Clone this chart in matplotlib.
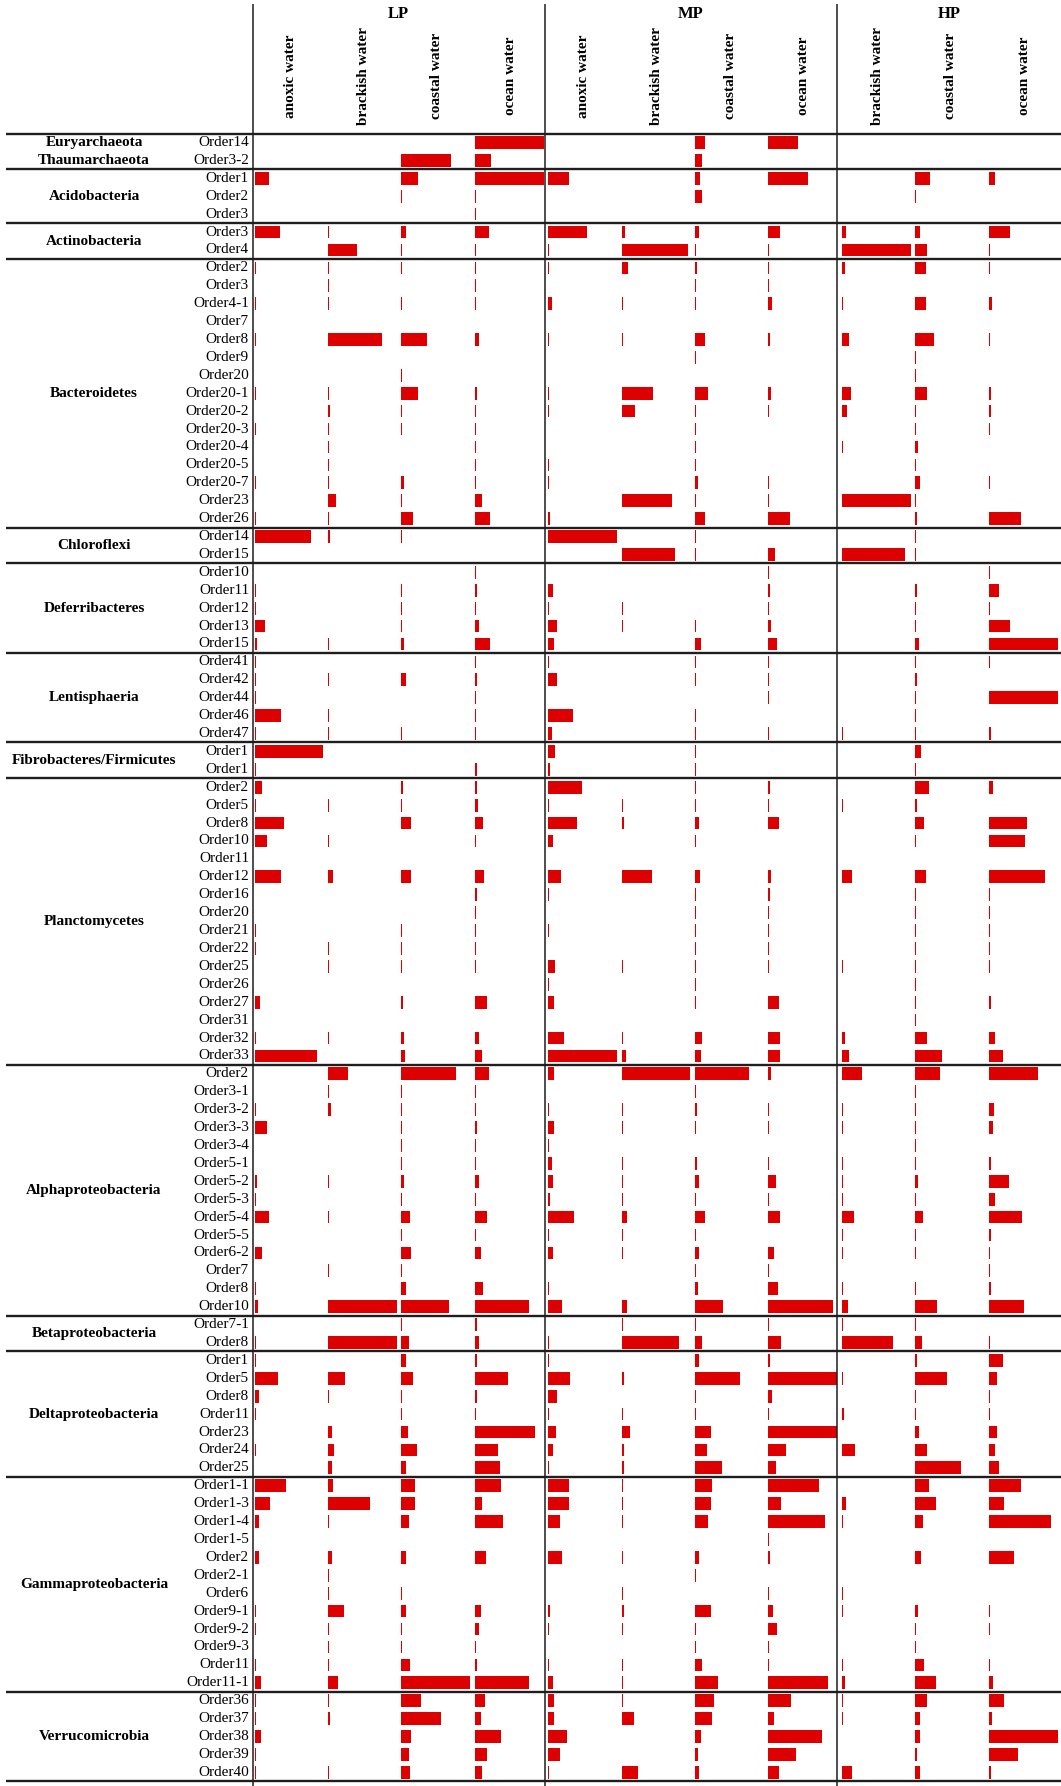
import numpy as np
import matplotlib
matplotlib.use("Agg")
import matplotlib.pyplot as plt

plt.rcParams["font.family"] = ["Liberation Serif", "DejaVu Serif"]

# column groups and habitats
groups = ["LP", "MP", "HP"]
habitats = [
    ["anoxic water", "brackish water", "coastal water", "ocean water"],
    ["anoxic water", "brackish water", "coastal water", "ocean water"],
    ["brackish water", "coastal water", "ocean water"],
]

# phyla, orders and bar lengths (relative, 132 = full cell)
# columns: LP anoxic, LP brackish, LP coastal, LP ocean,
#          MP anoxic, MP brackish, MP coastal, MP ocean,
#          HP brackish, HP coastal, HP ocean
phyla = [
    "Euryarchaeota", "Thaumarchaeota", "Acidobacteria", "Actinobacteria",
    "Bacteroidetes", "Chloroflexi", "Deferribacteres", "Lentisphaeria",
    "Fibrobacteres/Firmicutes", "Planctomycetes", "Alphaproteobacteria",
    "Betaproteobacteria", "Deltaproteobacteria", "Gammaproteobacteria",
    "Verrucomicrobia",
]

# phyla that share a block (no separator between them)
merged_with_next = ["Euryarchaeota"]

euryarchaeota_orders = ["Order14"]
euryarchaeota_vals = [
    [0, 0, 0, 131, 0, 0, 20, 57, 0, 0, 0],
]

thaumarchaeota_orders = ["Order3-2"]
thaumarchaeota_vals = [
    [0, 0, 95, 31, 0, 0, 14, 0, 0, 0, 0],
]

acidobacteria_orders = ["Order1", "Order2", "Order3"]
acidobacteria_vals = [
    [27, 0, 31, 131, 40, 0, 10, 75, 0, 29, 13],
    [0, 0, 2, 2, 0, 0, 14, 0, 0, 2, 0],
    [0, 0, 0, 1, 0, 0, 0, 0, 0, 0, 0],
]

actinobacteria_orders = ["Order3", "Order4"]
actinobacteria_vals = [
    [48, 1, 8, 28, 73, 6, 7, 23, 8, 10, 41],
    [0, 55, 2, 1, 1, 126, 3, 1, 132, 23, 1],
]

bacteroidetes_orders = ["Order2", "Order3", "Order4-1", "Order7", "Order8",
                        "Order9", "Order20", "Order20-1", "Order20-2",
                        "Order20-3", "Order20-4", "Order20-5", "Order20-7",
                        "Order23", "Order26"]
bacteroidetes_vals = [
    [1, 1, 2, 1, 1, 12, 4, 1, 7, 20, 1],
    [0, 1, 0, 1, 0, 0, 1, 1, 0, 0, 0],
    [3, 1.5, 2, 3, 7, 1, 3, 7, 1.5, 21, 7],
    [0, 0, 0, 0, 0, 0, 0, 0, 0, 0, 0],
    [2, 102, 48, 8, 1.5, 1, 19, 4, 13, 36, 1],
    [0, 0, 0, 0, 0, 0, 2, 0, 0, 1, 0],
    [0, 0, 1, 0, 0, 0, 0, 0, 0, 1, 0],
    [1, 1, 31, 5, 1, 59, 25, 6, 17, 23, 5],
    [0, 4, 1.5, 3, 1, 25, 1, 0.8, 10, 1, 4],
    [1, 2, 1, 3, 0, 0, 1, 0, 0, 2, 1],
    [0, 1, 0, 1, 0, 0, 1, 0, 1, 5, 0],
    [0, 1, 0, 1, 1, 0, 1, 0, 0, 1, 0],
    [1, 1, 5, 1, 1, 0, 5, 1, 0, 10, 3],
    [0, 16, 1.5, 14, 0, 96, 2, 1, 132, 2, 0],
    [2, 1, 22, 30, 4, 0, 19, 41, 0, 4, 62],
]

chloroflexi_orders = ["Order14", "Order15"]
chloroflexi_vals = [
    [107, 4, 1, 0, 131, 0, 1, 0, 0, 1, 0],
    [0, 0, 0, 0, 0, 101, 1, 13, 120, 2, 0],
]

deferribacteres_orders = ["Order10", "Order11", "Order12", "Order13", "Order15"]
deferribacteres_vals = [
    [0, 0, 0, 1.5, 0, 0, 0, 1, 0, 0, 1],
    [3, 0, 1, 5, 10, 0, 0, 4, 0, 3, 20],
    [1, 0, 1, 2, 2, 1, 0, 1, 0, 1, 2],
    [19, 0, 2, 9, 17, 1, 2, 5, 0, 2, 41],
    [4, 1, 6, 29, 11, 0, 11, 16, 0, 7, 132],
]

lentisphaeria_orders = ["Order41", "Order42", "Order44", "Order46", "Order47"]
lentisphaeria_vals = [
    [1, 0, 0, 2, 1.5, 0, 1, 1, 0, 1, 1],
    [1, 2, 8, 5, 16, 0, 1, 1.5, 0, 3, 0],
    [1, 0, 0, 1.5, 0, 0, 0, 2, 0, 1, 132],
    [50, 1, 0, 1, 48, 0, 1, 0, 0, 1, 0],
    [2, 2, 2, 2, 8, 0, 2, 2, 1, 2, 5],
]

fibro_firmi_orders = ["Order1", "Order1"]
fibro_firmi_vals = [
    [131, 0, 0, 0, 13, 0, 1.5, 0, 0, 11, 0],
    [2, 0, 0, 4, 4, 0, 1, 0, 0, 1, 0],
]

planctomycetes_orders = ["Order2", "Order5", "Order8", "Order10", "Order11",
                         "Order12", "Order16", "Order20", "Order21", "Order22",
                         "Order25", "Order26", "Order27", "Order31", "Order32",
                         "Order33"]
planctomycetes_vals = [
    [15, 0, 3, 5, 64, 0, 1, 3, 0, 26, 8],
    [2, 1, 1.5, 7, 1, 1.5, 3, 1, 1, 3, 0],
    [56, 0, 18, 15, 54, 5, 8, 21, 0, 16, 74],
    [24, 1, 0, 1, 9, 0, 1, 0, 0, 1, 70],
    [0, 0, 0, 0, 0, 0, 0, 0, 0, 0, 0],
    [51, 9, 18, 18, 24, 58, 9, 6, 19, 21, 107],
    [0, 0, 0, 4, 1, 0, 1.5, 4, 0, 1, 1],
    [0, 0, 0, 1, 0, 0, 1, 1, 0, 1.5, 1],
    [2, 0, 1.5, 1.5, 2, 0, 3, 1, 0, 1, 1],
    [1, 1.5, 1, 1.5, 0, 0, 1, 1, 0, 1, 1],
    [0, 1.5, 1, 1, 13, 2, 1, 1, 1, 1, 1],
    [0, 0, 0, 0, 1, 0, 1, 0, 0, 1, 0],
    [11, 0, 3, 24, 11, 0, 1, 20, 0, 1, 5],
    [0, 0, 0, 0, 0, 0, 0, 0, 0, 1, 0],
    [2, 1, 6, 8, 30, 1, 13, 22, 7, 23, 13],
    [118, 0, 7, 14, 131, 9, 12, 22, 13, 51, 28],
]

alpha_orders = ["Order2", "Order3-1", "Order3-2", "Order3-3", "Order3-4",
                "Order5-1", "Order5-2", "Order5-3", "Order5-4", "Order5-5",
                "Order6-2", "Order7", "Order8", "Order10"]
alpha_vals = [
    [0, 39, 103, 28, 12, 131, 102, 6, 39, 48, 94],
    [0, 1, 1, 1, 0, 0, 1, 0, 0, 1, 0],
    [2, 5, 1.5, 2, 2, 1, 4, 1.5, 1, 1, 10],
    [24, 0, 1, 5, 12, 1, 2, 1.5, 1.5, 1, 9],
    [0, 0, 1, 2, 1, 0, 0, 0, 0, 1.5, 0],
    [0, 0, 1, 1, 7, 1, 4, 1, 1, 2, 5],
    [5, 1, 6, 8, 10, 2, 8, 14, 1.5, 5, 39],
    [2, 0, 1, 1, 4, 1, 1.5, 1, 1, 1, 12],
    [28, 1.5, 16, 23, 49, 10, 20, 22, 23, 15, 64],
    [0, 0, 1, 1, 1, 1, 1, 0, 1, 1, 4],
    [15, 0, 19, 12, 9, 1, 8, 11, 1, 1.5, 2],
    [0, 1.5, 1, 0, 0, 0, 1, 1, 0, 0, 1],
    [2, 0, 9, 15, 1.5, 0, 5, 19, 1, 1, 4],
    [6, 132, 90, 104, 27, 10, 53, 122, 12, 41, 67],
]

beta_orders = ["Order7-1", "Order8"]
beta_vals = [
    [0, 0, 1, 5, 0, 2, 3, 1, 1, 1, 0],
    [2, 132, 15, 8, 2, 109, 14, 24, 98, 13, 1],
]

delta_orders = ["Order1", "Order5", "Order8", "Order11", "Order23", "Order24",
                "Order25"]
delta_vals = [
    [2, 0, 8, 4, 2, 0, 7, 4, 0, 4, 27],
    [45, 33, 22, 63, 42, 4, 85, 130, 2, 61, 17],
    [8, 1, 2, 5, 16, 0, 1, 7, 0, 2, 1],
    [2, 0, 1, 1, 2, 3, 3, 1, 5, 2, 2],
    [0, 8, 13, 115, 15, 16, 30, 130, 0, 7, 16],
    [2, 12, 30, 44, 9, 5, 23, 33, 26, 22, 13],
    [0, 8, 8, 49, 2, 4, 52, 15, 0, 88, 20],
]

gamma_orders = ["Order1-1", "Order1-3", "Order1-4", "Order1-5", "Order2",
                "Order2-1", "Order6", "Order9-1", "Order9-2", "Order9-3",
                "Order11", "Order11-1"]
gamma_vals = [
    [60, 10, 26, 50, 40, 1, 32, 96, 0, 26, 62],
    [29, 80, 26, 13, 39, 2, 31, 25, 8, 40, 30],
    [8, 1, 14, 53, 23, 2, 25, 108, 1, 15, 119],
    [0, 0, 0, 0, 0, 0, 0, 1, 0, 0, 0],
    [8, 8, 8, 22, 27, 1, 7, 3, 0, 12, 49],
    [0, 1, 0, 0, 0, 0, 1, 0, 0, 0, 0],
    [0, 1, 1, 0, 0, 1, 0, 1, 1.5, 0, 0],
    [2, 30, 8, 12, 4, 4, 30, 8, 1.5, 5, 3],
    [2, 1, 2, 9, 1.5, 1, 3, 16, 0, 1.5, 2],
    [0, 1, 1, 1.5, 0, 0, 1, 1, 0, 1, 0],
    [2, 1, 16, 4, 1.5, 1, 14, 1.5, 1.5, 16, 2],
    [13, 19, 131, 104, 10, 1.5, 43, 114, 6, 40, 8],
]

verruco_orders = ["Order36", "Order37", "Order38", "Order39", "Order40"]
verruco_vals = [
    [2, 1.5, 37, 20, 11, 2, 36, 43, 1.5, 22, 29],
    [1.5, 4, 76, 12, 12, 24, 33, 11, 3, 10, 6],
    [13, 0, 18, 50, 35, 0, 12, 102, 0, 10, 132],
    [1.5, 0, 14, 24, 23, 0, 5, 53, 0, 4, 56],
    [2, 1.5, 16, 13, 1.5, 31, 7, 20, 19, 9, 5],
]

order_lists = [euryarchaeota_orders, thaumarchaeota_orders, acidobacteria_orders,
               actinobacteria_orders, bacteroidetes_orders, chloroflexi_orders,
               deferribacteres_orders, lentisphaeria_orders, fibro_firmi_orders,
               planctomycetes_orders, alpha_orders, beta_orders, delta_orders,
               gamma_orders, verruco_orders]
value_lists = [euryarchaeota_vals, thaumarchaeota_vals, acidobacteria_vals,
               actinobacteria_vals, bacteroidetes_vals, chloroflexi_vals,
               deferribacteres_vals, lentisphaeria_vals, fibro_firmi_vals,
               planctomycetes_vals, alpha_vals, beta_vals, delta_vals,
               gamma_vals, verruco_vals]

# layout (figure in pixel units)
W, H = 1061, 1786
row0, pitch = 142.5, 17.91
col0, col_step = 254.5, 73.4
px_per_unit = 69.5 / 132
min_px = 1.1  # keep tiny non-zero values visible as hairlines
bar_h = 12.7
red = "#dc0000"
line_col = "#1e1e1e"
sep_x = [252.5, 545, 837]

fig = plt.figure(figsize=(W / 100, H / 100), dpi=100)
ax = fig.add_axes([0, 0, 1, 1])
ax.set_xlim(0, W)
ax.set_ylim(H, 0)
ax.axis("off")

all_vals = np.array([row for vals in value_lists for row in vals], dtype=float)
n_rows = all_vals.shape[0]
row_y = row0 + pitch * np.arange(n_rows)

for j in range(all_vals.shape[1]):
    v = all_vals[:, j]
    widths = np.where(v > 0, np.maximum(v * px_per_unit, min_px), 0)
    ax.barh(row_y, widths, left=col0 + col_step * j,
            height=bar_h, color=red, linewidth=0)

# row labels and separators
ax.hlines(row0 - pitch / 2, 6, W, color=line_col, linewidth=1.7)
i = 0
for name, orders in zip(phyla, order_lists):
    ys = row_y[i:i + len(orders)]
    for y, o in zip(ys, orders):
        ax.text(249, y, o, ha="right", va="center", fontsize=11)
    ax.text(94, ys.mean(), name, ha="center", va="center", fontsize=11,
            fontweight="bold")
    i += len(orders)
    if name not in merged_with_next:
        ax.hlines(row0 + pitch * (i - 0.5), 6, W, color=line_col, linewidth=1.7)

ax.vlines(sep_x, 4, H, color=line_col, linewidth=1.1)

# column headers
k = 0
bounds = sep_x + [W]
for g, (name, habs) in enumerate(zip(groups, habitats)):
    ax.text((bounds[g] + bounds[g + 1]) / 2, 14, name, ha="center",
            va="center", fontsize=12, fontweight="bold")
    for h in habs:
        ax.text(col0 + col_step * k + 35.5, 76, h, rotation=90,
                rotation_mode="anchor", ha="center", va="center",
                fontsize=11, fontweight="bold")
        k += 1

fig.savefig("out.png", dpi=100)
